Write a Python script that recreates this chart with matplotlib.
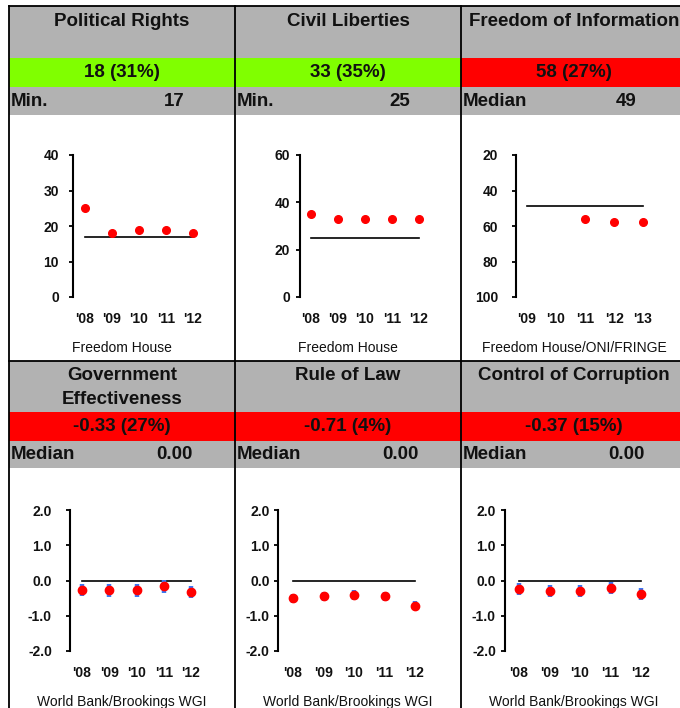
import numpy as np
import matplotlib
matplotlib.use('Agg')
import matplotlib.pyplot as plt
from matplotlib.patches import Rectangle

plt.rcParams['font.family'] = ['Liberation Sans', 'DejaVu Sans']
plt.rcParams['axes.unicode_minus'] = False

# data
titles = ["Political Rights", "Civil Liberties", "Freedom of Information",
          "Government\nEffectiveness", "Rule of Law", "Control of Corruption"]
band_labels = ["18 (31%)", "33 (35%)", "58 (27%)", "-0.33 (27%)", "-0.71 (4%)", "-0.37 (15%)"]
band_colors = ["#80FF00", "#80FF00", "#FF0000", "#FF0000", "#FF0000", "#FF0000"]
stat_names = ["Min.", "Min.", "Median", "Median", "Median", "Median"]
stat_values = ["17", "25", "49", "0.00", "0.00", "0.00"]
sources = ["Freedom House", "Freedom House", "Freedom House/ONI/FRINGE",
           "World Bank/Brookings WGI", "World Bank/Brookings WGI", "World Bank/Brookings WGI"]

years_08 = ["'08", "'09", "'10", "'11", "'12"]
years_09 = ["'09", "'10", "'11", "'12", "'13"]

pr_vals = [25, 18, 19, 19, 18]
pr_ref = 17
cl_vals = [35, 33, 33, 33, 33]
cl_ref = 25
foi_vals = [np.nan, np.nan, 56, 58, 58]
foi_ref = 49
ge_vals = [-0.27, -0.28, -0.28, -0.17, -0.33]
ge_err = [0.17, 0.18, 0.19, 0.19, 0.18]
rl_vals = [-0.50, -0.45, -0.41, -0.45, -0.71]
rl_err = [0.13, 0.13, 0.13, 0.13, 0.13]
cc_vals = [-0.25, -0.30, -0.31, -0.21, -0.37]
cc_err = [0.17, 0.17, 0.17, 0.18, 0.17]
wgi_ref = 0.0

W, H = 680, 708
fig = plt.figure(figsize=(6.8, 7.08), dpi=100)
fig.patch.set_facecolor('white')

bg = fig.add_axes([0, 0, 1, 1])
bg.set_xlim(0, W)
bg.set_ylim(H, 0)
bg.axis('off')

grey = "#B2B2B2"
col_left = [9, 235, 461]
col_w = 226
# (header top, band top, stat top, stat bottom, title y)
rows = [(6, 58, 87, 115, 21), (361, 412, 441, 468, 375)]

for i in range(6):
    r = i // 3
    c = i % 3
    x0 = col_left[c]
    top, band, stat, sbot, ty = rows[r]
    bg.add_patch(Rectangle((x0, top), col_w, band - top, color=grey, lw=0))
    bg.add_patch(Rectangle((x0, band), col_w, stat - band, color=band_colors[i], lw=0))
    bg.add_patch(Rectangle((x0, stat), col_w, sbot - stat, color=grey, lw=0))
    cx = x0 + col_w / 2
    for k, line in enumerate(titles[i].split("\n")):
        bg.text(cx, ty + 1 + k * 23, line, ha='center', va='center',
                fontsize=13.5, fontweight='bold', color='#111111')
    bg.text(cx, (band + stat) / 2, band_labels[i], ha='center', va='center',
            fontsize=13.5, fontweight='bold', color='#111111')
    bg.text(x0 + 2, (stat + sbot) / 2, stat_names[i], ha='left', va='center',
            fontsize=13.5, fontweight='bold', color='#111111')
    bg.text(x0 + 165, (stat + sbot) / 2, stat_values[i], ha='center', va='center',
            fontsize=13.5, fontweight='bold', color='#111111')
    src_y = 348 if r == 0 else 702
    bg.text(cx, src_y, sources[i], ha='center', va='center', fontsize=10, color='#111111')

# borders
for x in col_left:
    bg.plot([x, x], [6, H], color='black', lw=1.3)
bg.plot([9, W], [6, 6], color='black', lw=1.3)
bg.plot([9, W], [361, 361], color='black', lw=1.3)


def panel(axis_x, first_px, spacing, ytop, ybot, ypad):
    right = first_px + 4 * spacing + 15
    ax = fig.add_axes([axis_x / W, 1 - ybot / H, (right - axis_x) / W, (ybot - ytop) / H])
    ax.patch.set_visible(False)
    ax.set_xlim((axis_x - first_px) / spacing, (right - first_px) / spacing)
    for s in ['top', 'right', 'bottom']:
        ax.spines[s].set_visible(False)
    ax.spines['left'].set_linewidth(1.5)
    ax.tick_params(axis='y', direction='out', length=3, width=1.3, pad=ypad,
                   labelsize=10)
    ax.tick_params(axis='x', length=0, pad=10.5, labelsize=10)
    return ax


def finish(ax, labels, yticks, ylabels):
    ax.set_xticks(range(5), labels)
    ax.set_yticks(yticks, ylabels)
    for t in ax.get_xticklabels() + ax.get_yticklabels():
        t.set_fontweight('bold')
        t.set_color('#111111')


x = np.arange(5)
red = '#FF0000'
blue = '#3A78F5'

# Political Rights
ax = panel(73, 85, 27, 155, 297, 7)
ax.set_ylim(0, 40)
ax.plot([0, 4], [pr_ref] * 2, color='black', lw=1.2, zorder=2)
ax.plot(x, pr_vals, 'o', color=red, ms=5.5, zorder=3)
finish(ax, years_08, [0, 10, 20, 30, 40], ["0", "10", "20", "30", "40"])

# Civil Liberties
ax = panel(300, 311, 27, 155, 297, 4)
ax.set_ylim(0, 60)
ax.plot([0, 4], [cl_ref] * 2, color='black', lw=1.2, zorder=2)
ax.plot(x, cl_vals, 'o', color=red, ms=5.5, zorder=3)
finish(ax, years_08, [0, 20, 40, 60], ["0", "20", "40", "60"])

# Freedom of Information (inverted)
ax = panel(516, 527, 29, 155, 297, 10)
ax.set_ylim(100, 20)
ax.plot([0, 4], [foi_ref] * 2, color='black', lw=1.2, zorder=2)
ax.plot(x, foi_vals, 'o', color=red, ms=5.5, zorder=3)
finish(ax, years_09, [20, 40, 60, 80, 100], ["20", "40", "60", "80", "100"])

# WGI panels
wgi_ticks = [-2, -1, 0, 1, 2]
wgi_labels = ["%.1f" % v for v in wgi_ticks]
for (ax_x, fp, sp, pad), vals, err in [((70, 82, 27.25, 10), ge_vals, ge_err),
                                       ((278, 293, 30.5, 3), rl_vals, rl_err),
                                       ((505, 519, 30.5, 3.5), cc_vals, cc_err)]:
    ax = panel(ax_x, fp, sp, 510, 651, pad)
    ax.set_ylim(-2, 2)
    ax.plot([0, 4], [wgi_ref] * 2, color='black', lw=1.2, zorder=2)
    ax.errorbar(x, vals, yerr=err, fmt='none', ecolor=blue, elinewidth=3.2,
                capsize=0, zorder=3)
    ax.plot(x, vals, 'o', color=red, ms=6, zorder=4)
    finish(ax, years_08, wgi_ticks, wgi_labels)

fig.savefig('out.png', dpi=100)
